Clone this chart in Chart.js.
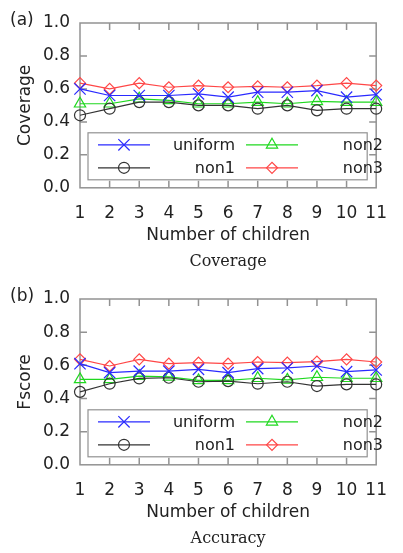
<!DOCTYPE html>
<html>
<head>
<meta charset="utf-8">
<script src="https://cdn.jsdelivr.net/npm/chart.js@4.4.1/dist/chart.umd.min.js"></script>
<style>
  html, body { margin: 0; padding: 0; background: #fff; }
  .panel { position: relative; width: 403px; height: 276px; }
  .lab { position: absolute; left: 10px; top: 9px; font: 17px "DejaVu Sans"; color: #222; }
</style>
</head>
<body>
<div class="panel"><canvas id="cov" width="403" height="276"></canvas><div class="lab">(a)</div></div>
<div class="panel" style="height:277px"><canvas id="acc" width="403" height="277"></canvas><div class="lab">(b)</div></div>
<script>
// number of children on the x axis
const children = [1, 2, 3, 4, 5, 6, 7, 8, 9, 10, 11];
const seriesNames = ['uniform', 'non1', 'non2', 'non3'];

// (a) coverage
const covUniform = [0.60, 0.56, 0.56, 0.56, 0.57, 0.55, 0.58, 0.58, 0.59, 0.55, 0.565];
const covNon1    = [0.44, 0.48, 0.52, 0.52, 0.50, 0.50, 0.48, 0.50, 0.47, 0.48, 0.48];
const covNon2    = [0.51, 0.51, 0.54, 0.53, 0.51, 0.51, 0.52, 0.51, 0.525, 0.52, 0.52];
const covNon3    = [0.635, 0.60, 0.635, 0.61, 0.62, 0.61, 0.615, 0.61, 0.62, 0.635, 0.62];

// (b) fscore
const accUniform = [0.61, 0.556, 0.565, 0.565, 0.576, 0.556, 0.58, 0.584, 0.596, 0.562, 0.572];
const accNon1    = [0.44, 0.489, 0.521, 0.525, 0.501, 0.505, 0.489, 0.501, 0.475, 0.485, 0.485];
const accNon2    = [0.515, 0.515, 0.535, 0.53, 0.509, 0.509, 0.522, 0.512, 0.528, 0.522, 0.522];
const accNon3    = [0.636, 0.596, 0.636, 0.61, 0.616, 0.61, 0.62, 0.616, 0.622, 0.636, 0.62];

const colors = ['#2a2aff', '#333333', '#1fd81f', '#ff4646'];
const shapes = ['crossRot', 'circle', 'triangle', 'rectRot'];
const radii = [8, 5.5, 6.5, 5.5];

const txt = '#222';
const sans = { family: 'DejaVu Sans', size: 17 };

const framePlugin = {
  id: 'frame',
  beforeDatasetsDraw(chart) {
    const { ctx, chartArea: a, scales: { x, y } } = chart;
    ctx.save();
    ctx.strokeStyle = '#929292';
    ctx.lineWidth = 1.5;
    ctx.strokeRect(a.left, a.top, a.width, a.height);
    ctx.beginPath();
    x.ticks.forEach(t => {
      const px = x.getPixelForValue(t.value);
      if (px <= a.left + 1 || px >= a.right - 1) return;
      ctx.moveTo(px, a.top); ctx.lineTo(px, a.top + 7);
      ctx.moveTo(px, a.bottom); ctx.lineTo(px, a.bottom - 7);
    });
    y.ticks.forEach(t => {
      const py = y.getPixelForValue(t.value);
      if (py <= a.top + 1 || py >= a.bottom - 1) return;
      ctx.moveTo(a.left, py); ctx.lineTo(a.left + 7, py);
      ctx.moveTo(a.right, py); ctx.lineTo(a.right - 7, py);
    });
    ctx.stroke();
    ctx.restore();
  }
};

// legend inside the plot box, two columns, text right aligned
const boxLegend = {
  id: 'boxLegend',
  afterDatasetsDraw(chart) {
    const { ctx, chartArea: a } = chart;
    const bx = a.left + 8, by = a.bottom - 55, bw = a.width - 17, bh = 47;
    ctx.save();
    ctx.fillStyle = '#fff';
    ctx.fillRect(bx, by, bw, bh);
    ctx.strokeStyle = '#929292';
    ctx.lineWidth = 1.2;
    ctx.strokeRect(bx, by, bw, bh);
    ctx.font = '16px "DejaVu Sans"';
    ctx.textAlign = 'right';
    ctx.textBaseline = 'middle';
    chart.data.datasets.forEach((ds, i) => {
      const col = Math.floor(i / 2), row = i % 2;
      const ly = by + 12 + row * 23;
      const lx = bx + 10 + col * 148;
      ctx.strokeStyle = ds.borderColor;
      ctx.lineWidth = 1.2;
      ctx.beginPath();
      ctx.moveTo(lx, ly); ctx.lineTo(lx + 52, ly);
      ctx.stroke();
      ctx.fillStyle = 'rgba(0,0,0,0)';
      Chart.helpers.drawPoint(ctx, { pointStyle: ds.pointStyle, radius: ds.pointRadius, rotation: 0, borderWidth: 1.2 }, lx + 26, ly);
      ctx.fillStyle = txt;
      ctx.fillText(ds.label, lx + 137, ly + 1);
    });
    ctx.restore();
  }
};

function makeChart(id, yTitle, caption, series) {
  return new Chart(document.getElementById(id), {
    type: 'line',
    data: {
      datasets: seriesNames.map((name, i) => ({
        label: name,
        data: children.map((c, j) => ({ x: c, y: series[i][j] })),
        borderColor: colors[i],
        pointBorderColor: colors[i],
        pointBackgroundColor: 'rgba(0,0,0,0)',
        pointStyle: shapes[i],
        pointRadius: radii[i],
        borderWidth: 1.2,
        pointBorderWidth: 1.2,
        tension: 0,
        clip: false
      }))
    },
    options: {
      responsive: false,
      animation: false,
      devicePixelRatio: 1,
      layout: { padding: { top: 23, right: 9, left: 0, bottom: 0 } },
      plugins: {
        legend: { display: false },
        tooltip: { enabled: false },
        title: {
          display: true, position: 'bottom', fullSize: false, text: caption, color: txt,
          font: { family: 'DejaVu Serif', size: 16, weight: 'normal' },
          padding: { top: 4, bottom: 5 }
        }
      },
      scales: {
        x: {
          type: 'linear', min: 1, max: 11,
          grid: { display: false, drawTicks: false },
          border: { display: false },
          ticks: { stepSize: 1, padding: 16, font: sans, color: txt, maxRotation: 0, autoSkip: false },
          title: { display: true, text: 'Number of children', font: sans, color: txt, padding: { top: 0, bottom: 2 } },
          afterFit(s) { s.height = 60; }
        },
        y: {
          min: 0, max: 1,
          grid: { display: false, drawTicks: false },
          border: { display: false },
          ticks: { stepSize: 0.2, padding: 10, font: sans, color: txt, callback: v => v.toFixed(1) },
          title: { display: true, text: yTitle, font: sans, color: txt, padding: { top: 15, bottom: 0 } },
          afterFit(s) { s.width = 80; }
        }
      }
    },
    plugins: [framePlugin, boxLegend]
  });
}

makeChart('cov', 'Coverage', 'Coverage', [covUniform, covNon1, covNon2, covNon3]);
makeChart('acc', 'Fscore', 'Accuracy', [accUniform, accNon1, accNon2, accNon3]);
</script>
</body>
</html>
